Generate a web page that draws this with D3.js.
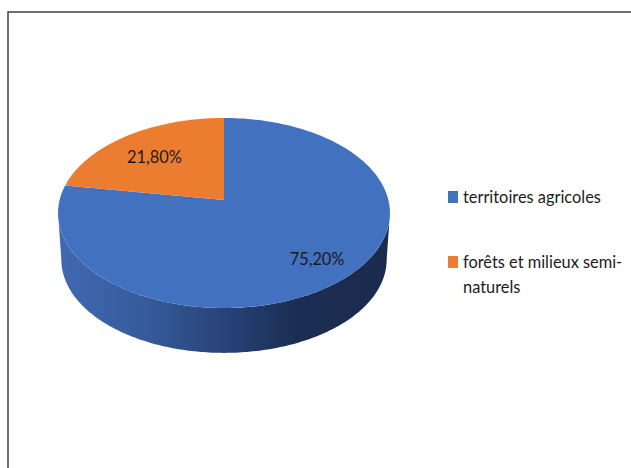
<!DOCTYPE html>
<html>
<head>
<meta charset="utf-8">
<script src="https://cdn.jsdelivr.net/npm/d3@7"></script>
<style>
  html, body { margin: 0; padding: 0; background: #fff; overflow: hidden; }
  svg { display: block; }
  text { font-family: Lato, "Open Sans", sans-serif; fill: #1c1c1c; }
</style>
</head>
<body>
<svg width="631" height="468"></svg>
<script>
// chart values
var categories = ["territoires agricoles", "forêts et milieux semi-naturels"];
var values = [75.20, 21.80];
var valueLabels = ["75,20%", "21,80%"];
var legendLines = [["territoires agricoles"], ["forêts et milieux semi-", "naturels"]];
var colors = ["#4271c0", "#ec7c30"];

var svg = d3.select("svg");

// perspective of the tilted disc: centre at (224,200), far edge 118, near edge 308
var cx = 224, cy = 200, halfWidth = 164.4, slope = 65.9, persp = -0.1368;
var depth = 47, bottomScale = 0.98;
// narrows the font to the width it has in the picture
var squeeze = "scale(0.91,1)";

function project(angle, r, scale, dy) {
    var u = Math.sin(angle) * r, v = -Math.cos(angle) * r;
    var d = 1 + persp * v;
    return [cx + scale * halfWidth * u / d,
            (cy + slope * v) / d * scale + cy * (1 - scale) + dy];
}

var pie = d3.pie().sort(null).value(function (d) { return d; });
var slices = pie(values);
var line = d3.line();

function arcPoints(a0, a1, scale, dy) {
    return d3.range(0, 181).map(function (i) {
        return project(a0 + (a1 - a0) * i / 180, 1, scale, dy);
    });
}

// frame, runs off the right and bottom of the picture
svg.append("rect")
    .attr("x", 8).attr("y", 12)
    .attr("width", 700).attr("height", 600)
    .attr("fill", "#fff")
    .attr("stroke", "#404040")
    .attr("stroke-width", 1.5);

// side wall, between the two widest points of the disc
var grad = svg.append("defs").append("linearGradient")
    .attr("id", "wall")
    .attr("gradientUnits", "userSpaceOnUse")
    .attr("x1", 58).attr("x2", 390).attr("y1", 0).attr("y2", 0);
[[0, "#4069b2"], [0.25, "#375c9d"], [0.5, "#28437a"], [0.72, "#1b2d52"], [1, "#1a2b4e"]].forEach(function (s) {
    grad.append("stop").attr("offset", s[0]).attr("stop-color", s[1]);
});

var widest = Math.acos(persp);
var frontTop = arcPoints(widest, 2 * Math.PI - widest, 1, 0);
var frontBottom = arcPoints(2 * Math.PI - widest, widest, bottomScale, depth);
svg.append("path")
    .attr("d", line(frontTop.concat(frontBottom)) + "Z")
    .attr("fill", "url(#wall)");

// top of the disc
svg.selectAll("path.slice")
    .data(slices)
    .enter().append("path")
    .attr("class", "slice")
    .attr("d", function (d) {
        return line([[cx, cy]].concat(arcPoints(d.startAngle, d.endAngle, 1, 0))) + "Z";
    })
    .attr("fill", function (d, i) { return colors[i]; });

// data labels
var labelRadius = [0.8, 0.7], labelDy = [-3, 3];
svg.selectAll("text.value")
    .data(slices)
    .enter().append("text")
    .attr("class", "value")
    .attr("text-anchor", "middle")
    .attr("dy", "0.35em")
    .attr("font-size", 18)
    .attr("transform", function (d, i) {
        var p = project((d.startAngle + d.endAngle) / 2, labelRadius[i], 1, labelDy[i]);
        return "translate(" + p[0] + "," + p[1] + ") " + squeeze;
    })
    .text(function (d, i) { return valueLabels[i]; });

// legend
var legendY = d3.scalePoint().domain(categories).range([203, 268]);
var legend = svg.selectAll("g.legend")
    .data(categories)
    .enter().append("g")
    .attr("class", "legend")
    .attr("transform", function (d) { return "translate(448," + legendY(d) + ")"; });
legend.append("rect")
    .attr("x", 0).attr("y", -12)
    .attr("width", 10).attr("height", 12)
    .attr("fill", function (d, i) { return colors[i]; });
legend.each(function (d, i) {
    d3.select(this).selectAll("text")
        .data(legendLines[i])
        .enter().append("text")
        .attr("transform", function (t, j) { return "translate(15," + j * 25 + ") " + squeeze; })
        .attr("font-size", 18)
        .text(function (t) { return t; });
});
</script>
</body>
</html>
